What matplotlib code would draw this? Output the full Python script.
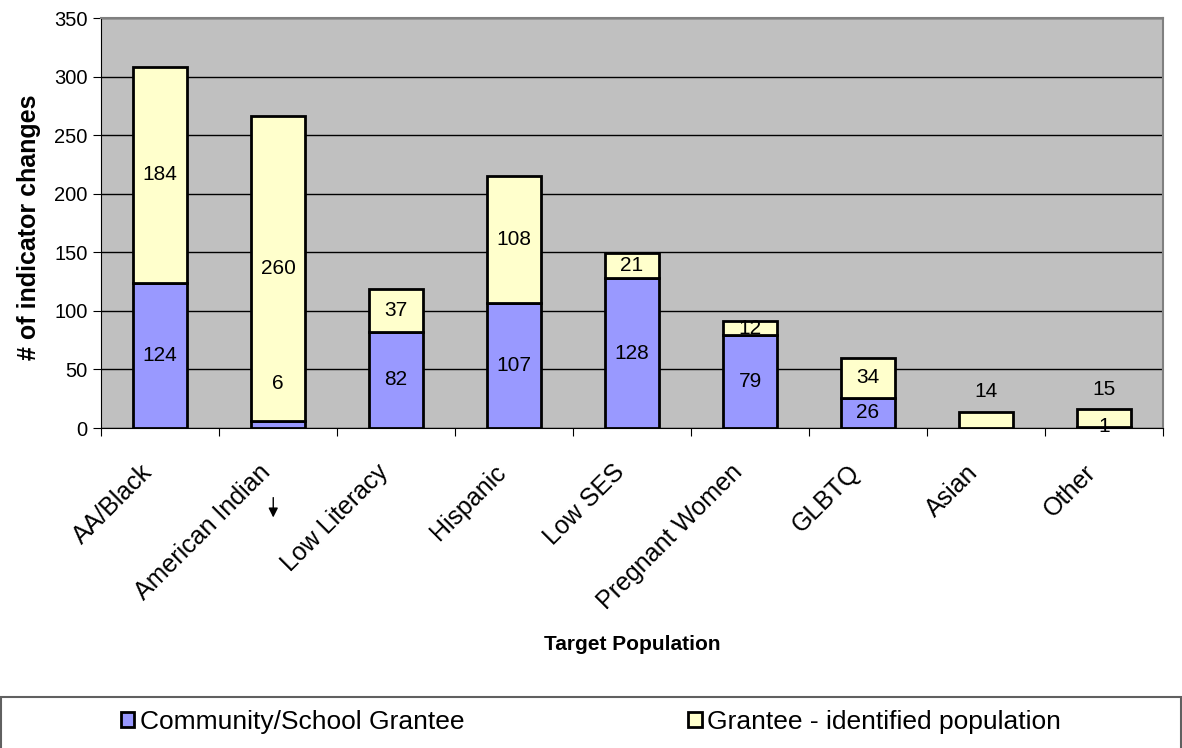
import numpy as np
import matplotlib.pyplot as plt
import matplotlib.transforms as mtransforms
from matplotlib.patches import Rectangle

plt.rcParams['font.family'] = ['Liberation Sans', 'DejaVu Sans']

# Indicator changes by target population
populations = ['AA/Black', 'American Indian', 'Low Literacy', 'Hispanic', 'Low SES',
               'Pregnant Women', 'GLBTQ', 'Asian', 'Other']
community = [124, 6, 82, 107, 128, 79, 26, 0, 1]
identified = [184, 260, 37, 108, 21, 12, 34, 14, 15]

blue = '#9999FF'
yellow = '#FFFFCC'

fig = plt.figure(figsize=(11.82, 7.48), dpi=100)
ax = fig.add_axes([0.0854, 0.4278, 0.8986, 0.5481])
ax.set_facecolor('#C0C0C0')

x = np.arange(len(populations))
w = 0.46
ax.bar(x, community, w, color=blue, edgecolor='black', linewidth=2, zorder=3,
       label='Community/School Grantee')
ax.bar(x, identified, w, bottom=community, color=yellow, edgecolor='black', linewidth=2,
       zorder=3, label='Grantee - identified population')

# data labels
for i in range(len(populations)):
    c, g = community[i], identified[i]
    if c > 0:
        cy = c / 2
        if c < 5:
            cy = 1.5
        elif c < 10:
            cy = 38  # moved up off the thin segment
        ax.text(i, cy, str(c), ha='center', va='center', fontsize=15, zorder=4)
    gy = c + g / 2
    if c + g < 20:
        gy = c + g + 17
    ax.text(i, gy, str(g), ha='center', va='center', fontsize=15, zorder=4)

ax.set_xlim(-0.5, len(populations) - 0.5)
ax.set_ylim(0, 350)
ax.set_yticks(np.arange(0, 351, 50))
ax.yaxis.grid(True, color='black', linewidth=1, zorder=1)
ax.set_xticks(np.arange(-0.5, len(populations), 1), minor=False)
ax.set_xticklabels([])
ax.set_xticks(x, minor=True)
ax.set_xticklabels(populations, minor=True, rotation=45, ha='right',
                   rotation_mode='anchor', fontsize=18)
ax.tick_params(axis='x', which='minor', length=0, pad=16)
ax.tick_params(axis='x', which='major', length=6, direction='out')
ax.tick_params(axis='y', labelsize=14.5, length=6)

# nudge the slanted category names down and left
shift = mtransforms.ScaledTranslation(-20 / 100, -10 / 100, fig.dpi_scale_trans)
for lbl in ax.get_xticklabels(minor=True):
    lbl.set_transform(lbl.get_transform() + shift)

for s in ['top', 'right']:
    ax.spines[s].set_color('#808080')
    ax.spines[s].set_linewidth(1.5)
for s in ['left', 'bottom']:
    ax.spines[s].set_color('black')

ax.set_ylabel('# of indicator changes', fontsize=18, fontweight='bold')
ax.yaxis.set_label_coords(-0.056, 0.49)
fig.text(0.5347, 0.138, 'Target Population', ha='center', va='center',
         fontsize=15, fontweight='bold')

# small arrow under the American Indian bar
ax.annotate('', xy=(0.96, -0.225), xytext=(0.96, -0.163),
            xycoords=('data', 'axes fraction'),
            arrowprops=dict(arrowstyle='-|>', color='black', lw=1, mutation_scale=14))

# legend box across the bottom
fig.patches.append(Rectangle((0.001, -0.02), 0.998, 0.088, transform=fig.transFigure,
                             facecolor='white', edgecolor='#606060', linewidth=1.5))
fig.legend(loc='center', bbox_to_anchor=(0.5, 0.035), ncol=2, frameon=False,
           fontsize=19, handlelength=0.5, handleheight=0.5, handletextpad=0.2,
           columnspacing=8.5)

fig.savefig('out.png', dpi=100)
